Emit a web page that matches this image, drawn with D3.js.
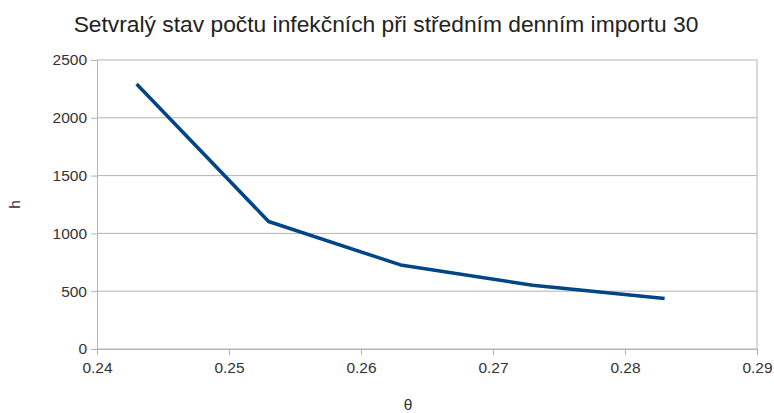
<!DOCTYPE html>
<html>
<head>
<meta charset="utf-8">
<script src="https://cdn.jsdelivr.net/npm/d3@7"></script>
<style>
  body { margin: 0; background: #fff; }
  text { font-family: "Liberation Sans", Arial, sans-serif; }
</style>
</head>
<body>
<svg id="chart" width="774" height="413"></svg>
<script>
// data
const theta = [0.243, 0.253, 0.263, 0.273, 0.283];
const hValues = [2292, 1103, 727, 552, 437];
const xTicks = [0.24, 0.25, 0.26, 0.27, 0.28, 0.29];
const yTicks = [0, 500, 1000, 1500, 2000, 2500];
const title = "Setvralý stav počtu infekčních při středním denním importu 30";

const svg = d3.select("#chart");
const margin = {left: 97, right: 17, top: 60, bottom: 64};
const W = 774, H = 413;

const x = d3.scaleLinear().domain([0.24, 0.29]).range([margin.left, W - margin.right]);
const y = d3.scaleLinear().domain([0, 2500]).range([H - margin.bottom, margin.top]);

const grid = "#b3b3b3";

// horizontal grid lines
svg.append("g")
  .selectAll("line")
  .data(yTicks)
  .join("line")
  .attr("x1", x(0.24)).attr("x2", x(0.29))
  .attr("y1", d => y(d)).attr("y2", d => y(d))
  .attr("stroke", grid).attr("stroke-width", 1);

// right border
svg.append("line")
  .attr("x1", x(0.29)).attr("x2", x(0.29))
  .attr("y1", y(2500)).attr("y2", y(0))
  .attr("stroke", grid);

// axes
const xAxis = svg.append("g")
  .attr("transform", `translate(0,${y(0)})`)
  .call(d3.axisBottom(x).tickValues(xTicks).tickFormat(d3.format(".2f")).tickSize(6).tickPadding(7));
const yAxis = svg.append("g")
  .attr("transform", `translate(${x(0.24)},0)`)
  .call(d3.axisLeft(y).tickValues(yTicks).tickFormat(d3.format("d")).tickSize(6).tickPadding(4));

[xAxis, yAxis].forEach(a => {
  a.select(".domain").attr("stroke", grid);
  a.selectAll(".tick line").attr("stroke", grid);
  a.selectAll(".tick text")
    .attr("fill", "#333")
    .style("font-size", "15.5px")
    .style("font-family", "Liberation Sans, Arial, sans-serif");
});

// series line
const line = d3.line().x((d, i) => x(theta[i])).y(d => y(d));
svg.append("path")
  .datum(hValues)
  .attr("d", line)
  .attr("fill", "none")
  .attr("stroke", "#004586")
  .attr("stroke-width", 3.5)
  .attr("stroke-linejoin", "round");

// title
svg.append("text")
  .attr("x", 386).attr("y", 32)
  .attr("text-anchor", "middle")
  .style("font-size", "22.8px")
  .attr("fill", "#222")
  .text(title);

// axis labels
svg.append("text")
  .attr("transform", `translate(20,${(y(0) + y(2500)) / 2}) rotate(-90)`)
  .attr("text-anchor", "middle")
  .style("font-size", "15.5px")
  .attr("fill", "#333")
  .text("h");

svg.append("text")
  .attr("x", 408).attr("y", 410)
  .attr("text-anchor", "middle")
  .style("font-size", "15.5px")
  .attr("fill", "#333")
  .text("θ");
</script>
</body>
</html>
